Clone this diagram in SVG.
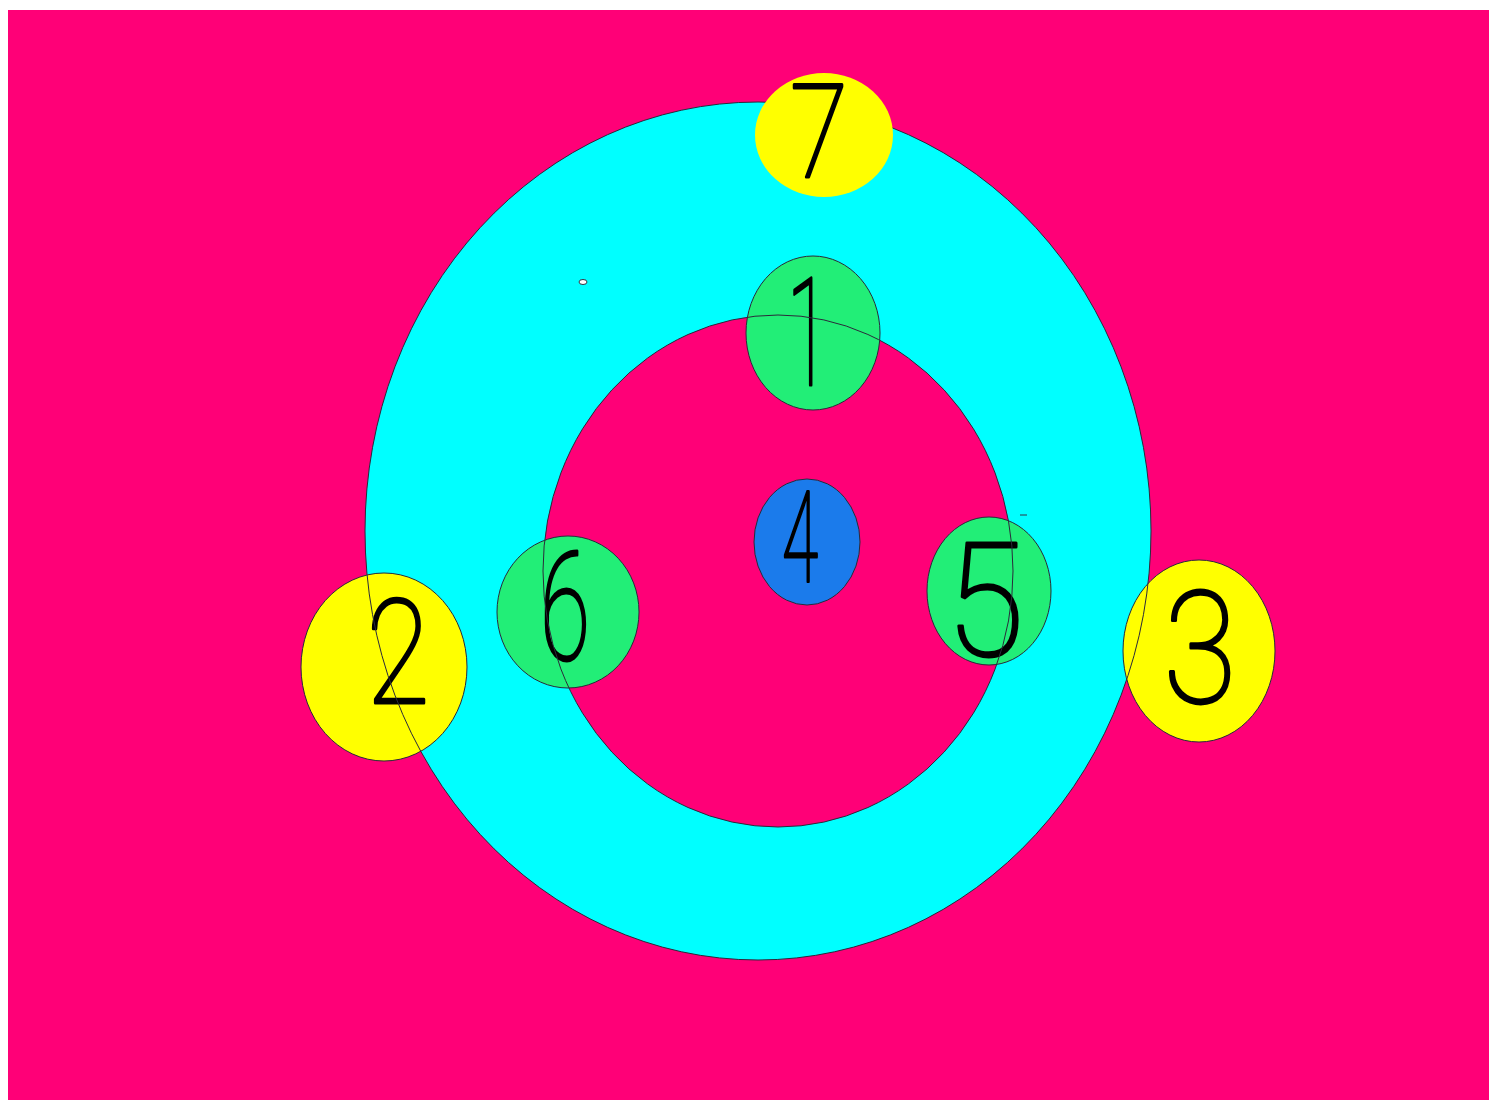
<svg xmlns="http://www.w3.org/2000/svg" width="1489" height="1102" viewBox="0 0 1489 1102">
<style>
.lbl{font-family:Roboto,"Liberation Sans",sans-serif;font-weight:100;fill:#000;stroke:#000;stroke-width:3;stroke-linejoin:round;text-anchor:middle}
.ol{fill:none;stroke:#2a2a3a;stroke-width:1}
.nd{stroke:#2a2a3a;stroke-width:1}
.y{fill:#FFFF00}.g{fill:#22EE77}.b{fill:#1B7BEB}
</style>
<rect width="1489" height="1102" fill="#fff"/>
<rect x="8" y="10" width="1481" height="1090" fill="#FF0077"/>
<g id="ring">
<ellipse cx="758" cy="531" rx="393" ry="429" fill="#00FFFF"/>
<ellipse cx="778" cy="571" rx="235" ry="256" fill="#FF0077"/>
<ellipse cx="583" cy="282" rx="4" ry="2.5" fill="#fff" stroke="#334" stroke-width="1"/>
<line x1="1020" y1="515" x2="1027" y2="515" stroke="#334" stroke-width="1"/>
</g>
<g id="node1"><ellipse class="nd g" cx="813" cy="333" rx="67" ry="77"/><text class="lbl" x="808" y="385" font-size="150" textLength="42" lengthAdjust="spacingAndGlyphs">1</text></g>
<g id="node4"><ellipse class="nd b" cx="807" cy="542" rx="53" ry="63"/><text class="lbl" x="800" y="582" font-size="127" textLength="36" lengthAdjust="spacingAndGlyphs">4</text></g>
<g id="node5"><ellipse class="nd g" cx="989" cy="591" rx="62" ry="74"/><text class="lbl" x="985" y="655" font-size="157" textLength="78" lengthAdjust="spacingAndGlyphs">5</text></g>
<g id="node6"><ellipse class="nd g" cx="568" cy="612" rx="71" ry="76"/><text class="lbl" x="565" y="660" font-size="150" textLength="50" lengthAdjust="spacingAndGlyphs">6</text></g>
<g id="node2"><ellipse class="nd y" cx="384" cy="667" rx="83" ry="94"/><text class="lbl" x="398" y="703" font-size="145" textLength="63" lengthAdjust="spacingAndGlyphs">2</text></g>
<g id="node3"><ellipse class="nd y" cx="1199" cy="651" rx="76" ry="91"/><text class="lbl" x="1200" y="702" font-size="156" textLength="73" lengthAdjust="spacingAndGlyphs">3</text></g>
<g id="connectors">
<ellipse class="ol" cx="758" cy="531" rx="393" ry="429"/>
<ellipse class="ol" cx="778" cy="571" rx="235" ry="256"/>
</g>
<g id="node7"><ellipse cx="824" cy="135" rx="69" ry="62" fill="#FFFF00"/><text class="lbl" x="819" y="177" font-size="129" textLength="58" lengthAdjust="spacingAndGlyphs">7</text></g>
</svg>
